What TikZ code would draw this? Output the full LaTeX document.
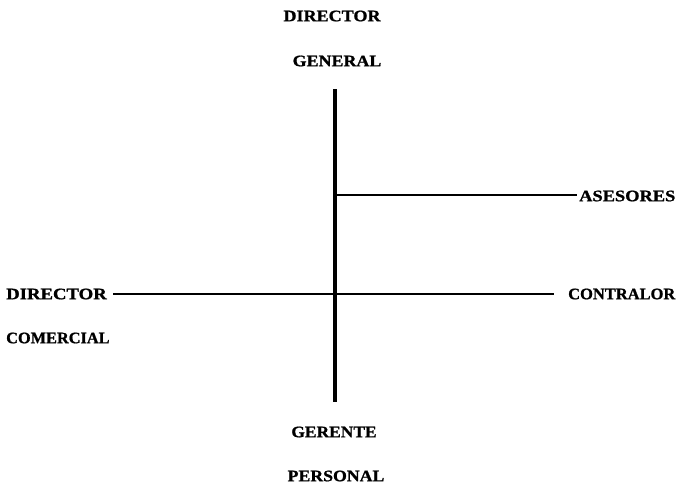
\documentclass[tikz,border=0pt]{standalone}
\usepackage{fontspec}
\setmainfont{Liberation Serif}
\newcommand{\sxt}[2]{\scalebox{#1}[1]{#2}}
\begin{document}
\begin{tikzpicture}[x=1pt,y=-1pt,
  lbl/.style={font=\fontsize{16}{16}\selectfont\bfseries\addfontfeature{FakeBold=1}, inner sep=0pt},
  thick line/.style={line width=4.2pt},
  thin line/.style={line width=2.6pt}]
\useasboundingbox (0,0) rectangle (680,487);
% titles
\node[lbl] (dg1) at (332,16) {\sxt{1.13}{DIRECTOR}};
\node[lbl] (dg2) at (337,61) {\sxt{1.12}{GENERAL}};
\node[lbl] (gp1) at (334,432) {\sxt{1.09}{GERENTE}};
\node[lbl] (gp2) at (336,476) {\sxt{1.11}{PERSONAL}};
\node[lbl, anchor=west] (dc1) at (6,294) {\sxt{1.17}{DIRECTOR}};
\node[lbl, anchor=west] (dc2) at (6,338) {\sxt{1.02}{COMERCIAL}};
\node[lbl, anchor=west] (ct) at (568,294) {\sxt{1.03}{CONTRALOR}};
\node[lbl, anchor=west] (as) at (579,196) {\sxt{1.15}{ASESORES}};
% structure
\coordinate (vtop) at (335,89);
\coordinate (vbot) at (335,402);
\coordinate (hl) at (113,294);
\coordinate (hr) at (554,294);
\coordinate (aj) at (335,195);
\coordinate (ae) at (577,195);
\draw[thick line] (vtop) -- (vbot);
\draw[thin line] (hl) -- (hr);
\draw[thin line] (aj) -- (ae);
\end{tikzpicture}
\end{document}
